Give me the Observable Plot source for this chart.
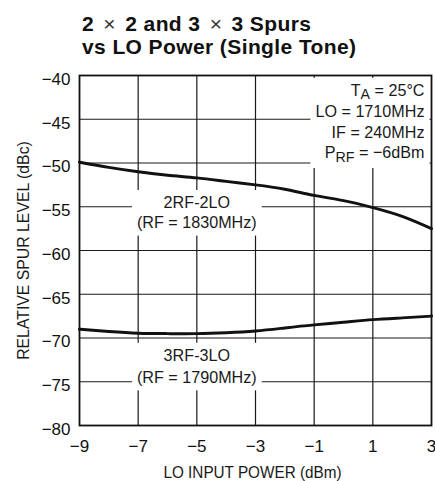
<!DOCTYPE html>
<html>
<head>
<meta charset="utf-8">
<script src="https://cdn.jsdelivr.net/npm/d3@7"></script>
<script src="https://cdn.jsdelivr.net/npm/@observablehq/plot@0.6"></script>
<style>
  html, body { margin: 0; padding: 0; background: #fff; }
  #wrap { position: relative; width: 435px; height: 481px; overflow: hidden; }
  #title {
    position: absolute; left: 82px; top: 12px;
    font-family: "Liberation Sans Narrow", "Arial Narrow", "Liberation Sans", sans-serif;
    font-weight: bold; font-size: 21px; line-height: 23px; color: #111;
    letter-spacing: 0.4px;
    white-space: nowrap;
  }
  #title .x { font-weight: normal; color: #333; margin: 0 3px; }
  svg { font-family: "Liberation Sans Narrow", "Arial Narrow", "Liberation Sans", sans-serif; }
</style>
</head>
<body>
<div id="wrap">
  <div id="title">2 <span class="x">×</span> 2 and 3 <span class="x">×</span> 3 Spurs<br>vs LO Power (Single Tone)</div>
</div>
<script>
// ---- data ----
const loPower = [-9, -8, -7, -6, -5, -4, -3, -2, -1, 0, 1, 2, 3];
const spur2RF2LO = [-49.9, -50.5, -51.0, -51.4, -51.7, -52.1, -52.5, -53.0, -53.7, -54.3, -55.1, -56.1, -57.5];
const spur3RF3LO = [-69.0, -69.25, -69.45, -69.5, -69.5, -69.4, -69.2, -68.85, -68.5, -68.2, -67.9, -67.7, -67.5];
const xTicks = [-9, -7, -5, -3, -1, 1, 3];
const yTicks = [-80, -75, -70, -65, -60, -55, -50, -45, -40];
const seriesLabels = [
  {text: "2RF-2LO\n(RF = 1830MHz)", x: -5, y: -55.6, lh: 1.18},
  {text: "3RF-3LO\n(RF = 1790MHz)", x: -5, y: -73.1, lh: 1.3}
];
const conditions = "T_{A} = 25°C\nLO = 1710MHz\nIF = 240MHz\nP_{RF} = −6dBm";
const xLabel = "LO INPUT POWER (dBm)";
const yLabel = "RELATIVE SPUR LEVEL (dBc)";

const rows2 = loPower.map((x, i) => ({x, y: spur2RF2LO[i]}));
const rows3 = loPower.map((x, i) => ({x, y: spur3RF3LO[i]}));
const fmt = d => (d < 0 ? "\u2212" + Math.abs(d) : String(d));

const chart = Plot.plot({
  width: 435,
  height: 481,
  marginTop: 75,
  marginBottom: 56,
  marginLeft: 79,
  marginRight: 4,
  style: {fontSize: "17px", color: "#111", background: "transparent"},
  x: {domain: [-9, 3]},
  y: {domain: [-80, -40]},
  marks: [
    Plot.gridX(xTicks.slice(1, -1), {stroke: "#1a1a1a", strokeOpacity: 1, strokeWidth: 1.2}),
    Plot.gridY(yTicks.slice(1, -1), {stroke: "#1a1a1a", strokeOpacity: 1, strokeWidth: 1.2}),
    Plot.axisX({ticks: xTicks, tickSize: 0, tickPadding: 14, tickFormat: fmt, label: null, fontSize: 17}),
    Plot.axisY({ticks: yTicks, tickSize: 0, tickPadding: 9, dy: 4, tickFormat: fmt, label: null, fontSize: 17}),
    Plot.line(rows2, {x: "x", y: "y", curve: "natural", stroke: "#111", strokeWidth: 3}),
    Plot.line(rows3, {x: "x", y: "y", curve: "natural", stroke: "#111", strokeWidth: 3}),
    Plot.text([seriesLabels[0]], {x: "x", y: "y", text: "text", lineHeight: seriesLabels[0].lh, lineAnchor: "middle", fill: "#1a1a1a", fontSize: 17}),
    Plot.text([seriesLabels[1]], {x: "x", y: "y", text: "text", lineHeight: seriesLabels[1].lh, lineAnchor: "middle", fill: "#1a1a1a", fontSize: 17}),
    Plot.text([conditions], {text: d => d, frameAnchor: "top-right", textAnchor: "end", lineAnchor: "top", lineHeight: 1.22, dx: -7, dy: 6, fill: "#1a1a1a", fontSize: 17}),
    Plot.text([xLabel], {text: d => d, frameAnchor: "bottom", textAnchor: "middle", lineAnchor: "middle", dy: 47, dx: -3, fill: "#1a1a1a", fontSize: 17}),
    Plot.text([yLabel], {text: d => d, frameAnchor: "left", textAnchor: "middle", rotate: -90, lineAnchor: "middle", dx: -56, fill: "#1a1a1a", fontSize: 17}),
    Plot.frame({stroke: "#111", strokeWidth: 1.8})
  ]
});
chart.style.position = "absolute";
chart.style.left = "0px";
chart.style.top = "0px";
const wrap = document.getElementById("wrap");
wrap.insertBefore(chart, wrap.firstChild);

const NS = "http://www.w3.org/2000/svg";

// subscripts: replace "_{..}" with shifted tspans
const walker = document.createTreeWalker(chart, NodeFilter.SHOW_TEXT);
const nodes = [];
while (walker.nextNode()) if (/_\{[^}]*\}/.test(walker.currentNode.nodeValue)) nodes.push(walker.currentNode);
for (const n of nodes) {
  const parts = n.nodeValue.split(/(_\{[^}]*\})/);
  const parent = n.parentNode;
  for (const p of parts) {
    if (!p) continue;
    const m = p.match(/^_\{([^}]*)\}$/);
    if (m) {
      const t = document.createElementNS(NS, "tspan");
      t.setAttribute("baseline-shift", "-3.5");
      t.setAttribute("font-size", "15");
      t.textContent = m[1];
      parent.insertBefore(t, n);
    } else {
      parent.insertBefore(document.createTextNode(p), n);
    }
  }
  parent.removeChild(n);
}

// horizontal condensing to mimic the narrow datasheet font
function condense(match, s) {
  for (const el of chart.querySelectorAll("text")) {
    if (!el.textContent.includes(match)) continue;
    let tr = el.getAttribute("transform");
    if (!tr) {
      const x = +(el.getAttribute("x") || 0), y = +(el.getAttribute("y") || 0);
      el.removeAttribute("x"); el.removeAttribute("y");
      tr = `translate(${x},${y})`;
    }
    el.setAttribute("transform", `${tr} scale(${s},1)`);
  }
}
condense(xLabel, 0.9);
condense(yLabel, 0.93);
condense("2RF-2LO", 0.95);
condense("3RF-3LO", 0.95);
condense("1710MHz", 0.95);

// white boxes behind annotations that interrupt the grid
const frameL = 79, frameR = 431, frameT = 75, frameB = 425;
const svgRect = chart.getBoundingClientRect();
const annoTexts = ["2RF-2LO", "3RF-3LO", "1710MHz"];
for (const textEl of chart.querySelectorAll("text")) {
  const content = textEl.textContent;
  if (!annoTexts.some(s => content.includes(s))) continue;
  const r = textEl.getBoundingClientRect();
  let x1 = r.left - svgRect.left - 5, x2 = r.right - svgRect.left + 5;
  let y1 = r.top - svgRect.top - 3, y2 = r.bottom - svgRect.top + 3;
  x1 = Math.max(x1, frameL); x2 = Math.min(x2, frameR);
  y1 = Math.max(y1, frameT); y2 = Math.min(y2, frameB);
  const rect = document.createElementNS(NS, "rect");
  rect.setAttribute("x", x1); rect.setAttribute("y", y1);
  rect.setAttribute("width", x2 - x1); rect.setAttribute("height", y2 - y1);
  rect.setAttribute("fill", "#fff");
  const g = textEl.closest("g");
  g.parentNode.insertBefore(rect, g);
}
</script>
</body>
</html>
